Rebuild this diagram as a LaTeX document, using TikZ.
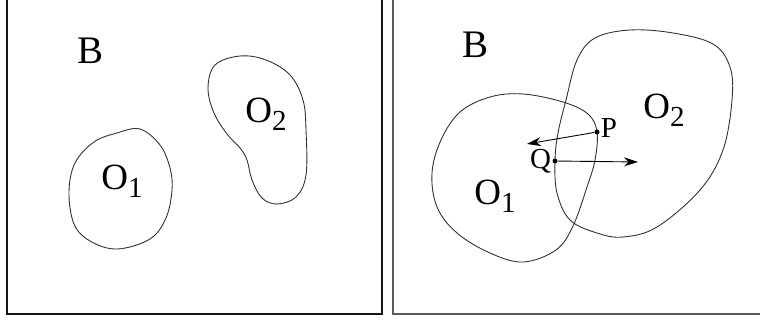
\documentclass[tikz,border=0pt]{standalone}
\usepackage{fontspec}
\setmainfont{Liberation Serif}
\usepackage{tikz}
\usetikzlibrary{arrows.meta,calc,positioning}
\definecolor{frameblack}{RGB}{20,20,20}
\definecolor{framegray}{RGB}{90,90,90}
\definecolor{outline}{RGB}{50,50,50}
\newcommand{\lowsub}[1]{\raisebox{-8pt}{\fontsize{29}{29}\selectfont #1}}
\begin{document}
\begin{tikzpicture}[x=1pt,y=-1pt,>={Stealth[length=14pt,width=9pt]},
    every node/.style={inner sep=0pt,text=black},
    blob/.style={draw=outline,line width=0.9pt},
    bigtxt/.style={font=\fontsize{39}{39}\selectfont},
    objtxt/.style={font=\fontsize{37}{37}\selectfont},
    pttxt/.style={font=\fontsize{29}{29}\selectfont},
    ptdot/.style={circle,fill=black,minimum size=5pt}]
    \useasboundingbox (0,0) rectangle (760,323);
    % left panel: two separate objects
    \draw[frameblack,line width=1.5pt] (7,-2) -- (7,314) -- (382,314) -- (382,-2);
    \node[bigtxt] (bleft) at (91,51) {B};
    \draw[blob] plot[smooth cycle,tension=0.6] coordinates {(140,129) (160,145) (170,168) (172,190) (166,218) (150,239) (117,249) (90,241) (74,224) (69,192) (75,163) (94,142) (117,133)};
    \draw[blob] plot[smooth cycle,tension=0.6] coordinates {(240,56) (266,60) (290,75) (303,100) (306,130) (306,175) (296,197) (277,204) (262,198) (252,180) (247,160) (240,148) (227,134) (214,113) (208,88) (215,65)};
    \node[objtxt] (oa) at (122,181) {O\lowsub{1}};
    \node[objtxt] (ob) at (266,114) {O\lowsub{2}};
    % right panel: overlapping objects
    \draw[framegray,line width=1.5pt] (393,-2) -- (393,314) -- (762,314);
    \node[bigtxt] (bright) at (475,45) {B};
    \draw[blob] plot[smooth cycle,tension=0.6] coordinates {(523,94) (563,102) (588,114) (597,132) (595,160) (587,187) (573,226) (556,250) (523,262) (490,253) (457,233) (437,207) (432,173) (441,140) (460,112) (490,97)};
    \draw[blob] plot[smooth cycle,tension=0.6] coordinates {(630,30) (673,33) (713,44) (730,67) (732,100) (723,150) (700,190) (657,227) (623,237) (597,233) (570,220) (557,193) (555,161) (558,133) (566,100) (577,60) (595,38)};
    \node[objtxt] (oc) at (495,196) {O\lowsub{1}};
    \node[objtxt] (od) at (664,110) {O\lowsub{2}};
    \node[ptdot] (pp) at (597,132) {};
    \node[ptdot] (qq) at (555,161) {};
    \node[pttxt,right=1pt of pp,yshift=4pt] (plab) {P};
    \node[pttxt,left=1pt of qq,yshift=0pt] (qlab) {Q};
    \coordinate (ptip) at (527,144);
    \coordinate (qtip) at (638,162);
    \draw[->,line width=0.9pt] (pp) -- (ptip);
    \draw[->,line width=0.9pt] (qq) -- (qtip);
\end{tikzpicture}
\end{document}
